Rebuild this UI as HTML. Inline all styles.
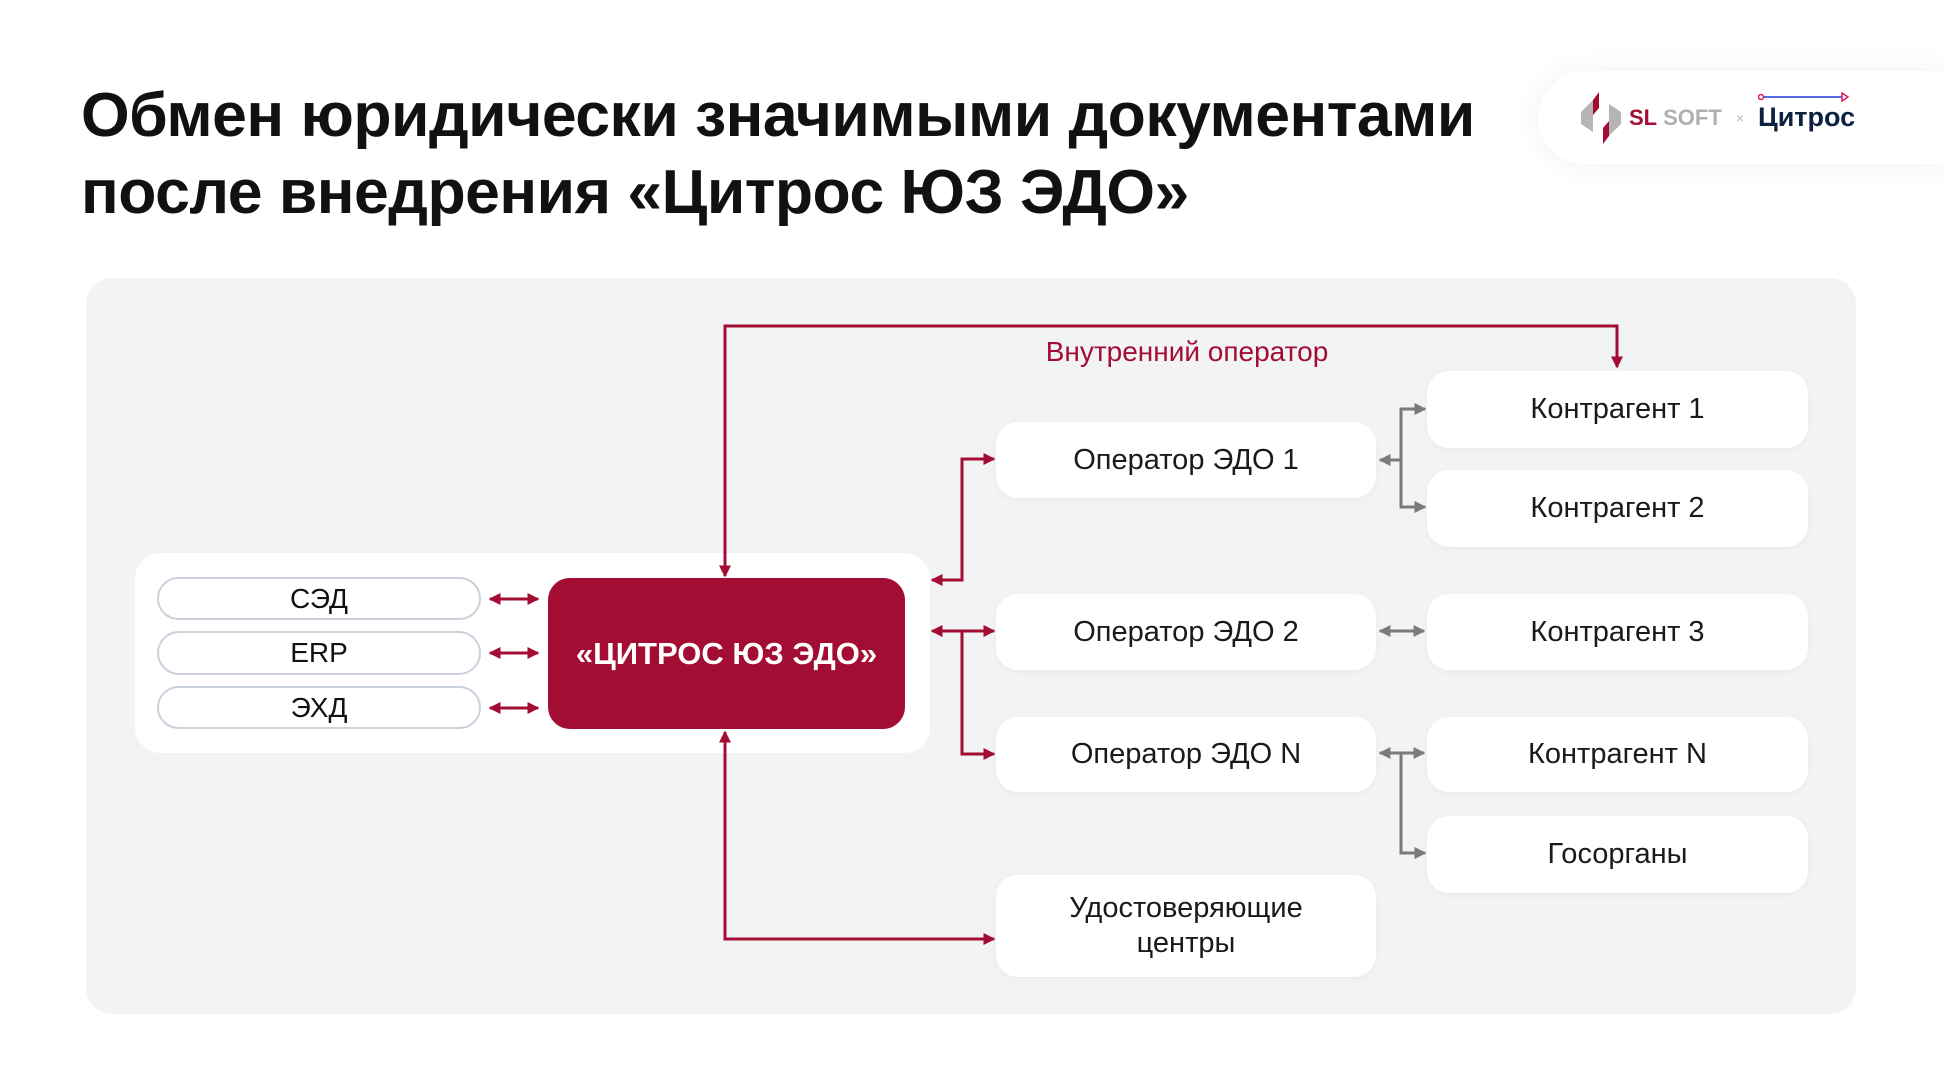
<!DOCTYPE html>
<html><head><meta charset="utf-8"><style>
body{margin:0;width:1944px;height:1090px;background:#fff;position:relative;overflow:hidden;font-family:"Liberation Sans","DejaVu Sans",sans-serif}
.a{position:absolute;box-sizing:border-box;display:flex;align-items:center;justify-content:center;text-align:center}
.t{position:absolute;left:81px;font-weight:bold;font-size:62.5px;color:#111;letter-spacing:-0.5px;line-height:76px}
.w{background:#fff;border-radius:22px;font-size:29px;color:#1a1a1a;box-shadow:0 2px 8px rgba(0,0,0,0.04)}
.p{background:#fff;border:2px solid #c9d2dd;border-radius:22px;font-size:28px;color:#111}
</style></head><body>
<div class="t" style="top:77px">Обмен юридически значимыми документами</div>
<div class="t" style="top:154px">после внедрения «Цитрос ЮЗ ЭДО»</div>
<div class="a" style="left:1538px;top:71px;width:420px;height:93px;background:#fff;border-radius:47px 0 0 47px;box-shadow:0 0 30px rgba(0,0,0,0.06);justify-content:flex-start;padding-left:43px">
<svg width="40" height="52" viewBox="0 0 40 52"><polygon points="18,0 18,16 6,30 6,16" fill="#a30d33"/><polygon points="0,20 12,8 12,40 0,32" fill="#b5b5b8"/><polygon points="22,52 22,36 34,22 34,36" fill="#a30d33"/><polygon points="40,32 28,44 28,12 40,20" fill="#b5b5b8"/></svg>
<span style="font-weight:bold;font-size:22px;color:#a30d33;margin-left:8px">SL</span><span style="font-weight:bold;font-size:22px;color:#b0b0b3;margin-left:6px">SOFT</span>
<span style="color:#bbb;font-size:14px;margin:0 14px">×</span>
<span style="position:relative;font-weight:bold;font-size:27px;color:#0d2240">Цитрос<svg style="position:absolute;left:0;top:-10px" width="92" height="10"><circle cx="3" cy="5" r="2.5" fill="none" stroke="#e0195a" stroke-width="1.5"/><line x1="6" y1="5" x2="84" y2="5" stroke="#1a3ad8" stroke-width="1.5"/><polygon points="84,1 90,5 84,9" fill="none" stroke="#e0195a" stroke-width="1.5"/></svg></span>
</div>
<div style="position:absolute;left:86px;top:278px;width:1770px;height:736px;background:#f1f3f5;border-radius:26px"></div>
<div style="position:absolute;left:135px;top:553px;width:795px;height:200px;background:#fff;border-radius:26px"></div>
<div class="a p" style="left:157px;top:577px;width:324px;height:43px">СЭД</div>
<div class="a p" style="left:157px;top:631px;width:324px;height:44px">ERP</div>
<div class="a p" style="left:157px;top:686px;width:324px;height:43px">ЭХД</div>
<div class="a" style="left:548px;top:578px;width:357px;height:151px;background:#a30d33;border-radius:22px;color:#fff;font-weight:bold;font-size:31px">«ЦИТРОС ЮЗ ЭДО»</div>
<div class="a w" style="left:996px;top:422px;width:380px;height:76px">Оператор ЭДО 1</div>
<div class="a w" style="left:996px;top:594px;width:380px;height:76px">Оператор ЭДО 2</div>
<div class="a w" style="left:996px;top:717px;width:380px;height:75px">Оператор ЭДО N</div>
<div class="a w" style="left:996px;top:875px;width:380px;height:102px;line-height:35px">Удостоверяющие<br>центры</div>
<div class="a w" style="left:1427px;top:371px;width:381px;height:77px">Контрагент 1</div>
<div class="a w" style="left:1427px;top:470px;width:381px;height:77px">Контрагент 2</div>
<div class="a w" style="left:1427px;top:594px;width:381px;height:76px">Контрагент 3</div>
<div class="a w" style="left:1427px;top:717px;width:381px;height:75px">Контрагент N</div>
<div class="a w" style="left:1427px;top:816px;width:381px;height:77px">Госорганы</div>
<div class="a" style="left:967px;top:334px;width:440px;height:36px;color:#a30d33;font-size:28px">Внутренний оператор</div>
<svg style="position:absolute;left:0;top:0" width="1944" height="1090">
<defs>
<marker id="r" markerWidth="4" markerHeight="4" refX="3.5" refY="2" orient="auto-start-reverse" markerUnits="strokeWidth"><path d="M0,0 L4,2 L0,4z" fill="#a30d33"/></marker>
<marker id="g" markerWidth="4" markerHeight="4" refX="3.5" refY="2" orient="auto-start-reverse" markerUnits="strokeWidth"><path d="M0,0 L4,2 L0,4z" fill="#7a7a7a"/></marker>
</defs>
<g fill="none" stroke="#a30d33" stroke-width="3">
<polyline points="725,576 725,326 1617,326 1617,367" marker-start="url(#r)" marker-end="url(#r)"/>
<line x1="490" y1="599" x2="538" y2="599" marker-start="url(#r)" marker-end="url(#r)"/>
<line x1="490" y1="653" x2="538" y2="653" marker-start="url(#r)" marker-end="url(#r)"/>
<line x1="490" y1="708" x2="538" y2="708" marker-start="url(#r)" marker-end="url(#r)"/>
<polyline points="932,580 962,580 962,459 994,459" marker-start="url(#r)" marker-end="url(#r)"/>
<line x1="932" y1="631" x2="994" y2="631" marker-start="url(#r)" marker-end="url(#r)"/>
<polyline points="962,631 962,754 994,754" marker-end="url(#r)"/>
<polyline points="725,732 725,939 994,939" marker-start="url(#r)" marker-end="url(#r)"/>
</g>
<g fill="none" stroke="#7a7a7a" stroke-width="3">
<line x1="1401" y1="460" x2="1380" y2="460" marker-end="url(#g)"/>
<polyline points="1425,409 1401,409 1401,507 1425,507" marker-start="url(#g)" marker-end="url(#g)"/>
<line x1="1380" y1="631" x2="1424" y2="631" marker-start="url(#g)" marker-end="url(#g)"/>
<line x1="1380" y1="753" x2="1424" y2="753" marker-start="url(#g)" marker-end="url(#g)"/>
<polyline points="1401,753 1401,853 1425,853" marker-end="url(#g)"/>
</g>
</svg>
</body></html>
